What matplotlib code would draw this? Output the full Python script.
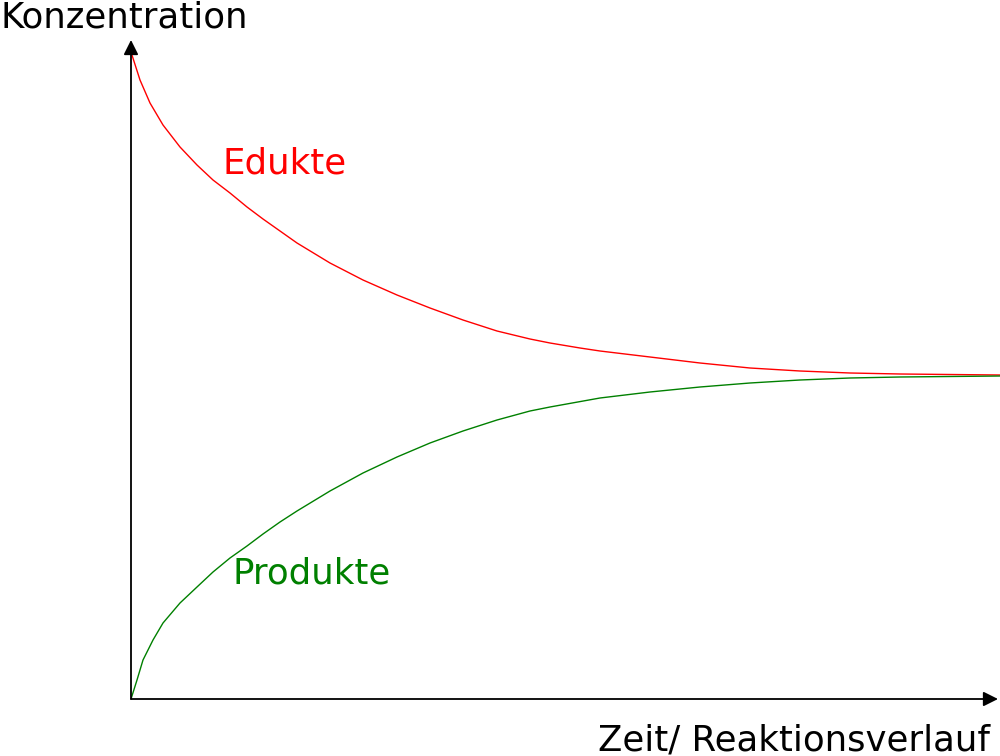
import matplotlib.pyplot as plt
import numpy as np

# values (time / concentration, arbitrary units)
zeit_edukte = [0, 9, 19, 32, 49, 66, 82, 99, 116, 132, 166, 199, 232, 266, 299, 332, 366,
               399, 419, 449, 469, 519, 569, 619, 669, 719, 769, 869]
konz_edukte = [647, 619, 596, 574, 552, 534, 519, 506, 492, 480, 456, 436, 419, 404, 391,
               379, 368, 360, 356, 351, 348, 342, 336, 331, 328, 326, 325, 324]

zeit_produkte = [0, 6, 12, 22, 32, 49, 66, 82, 99, 116, 132, 149, 166, 199, 232, 266, 299,
                 332, 366, 399, 419, 469, 519, 569, 619, 669, 719, 769, 869]
konz_produkte = [0, 19, 39, 59, 76, 96, 112, 127, 141, 153, 165, 177, 188, 208, 226, 242,
                 256, 268, 279, 288, 292, 301, 307, 312, 316, 319, 321, 322, 323]

x_label = 'Zeit/ Reaktionsverlauf'
y_label = 'Konzentration'

fig = plt.figure(figsize=(10, 7.56), dpi=100)
ax = fig.add_axes([0.131, 57 / 756, 0.869, 659 / 756])
ax.set_xlim(0, 869)
ax.set_ylim(0, 659)
ax.axis('off')

ax.plot(zeit_edukte, konz_edukte, color='#ff0000', lw=1.0, solid_joinstyle='round')
ax.plot(zeit_produkte, konz_produkte, color='#008000', lw=1.0, solid_joinstyle='round')

# axes with arrow heads
arrow = dict(arrowstyle='-|>', color='black', lw=1.3, mutation_scale=22, shrinkA=0, shrinkB=0)
ax.annotate('', xy=(0, 1), xytext=(0, 0), xycoords='axes fraction', arrowprops=arrow,
            annotation_clip=False)
ax.annotate('', xy=(0.9977, 0), xytext=(0, 0), xycoords='axes fraction', arrowprops=arrow,
            annotation_clip=False)

fs = 25.6
fig.text(0.0, 1 - 27 / 756, y_label, fontsize=fs, va='baseline', ha='left')
fig.text(0.990, 1 - 751 / 756, x_label, fontsize=fs, va='baseline', ha='right')
fig.text(0.222, 1 - 173 / 756, 'Edukte', fontsize=fs, color='#ff0000', va='baseline')
fig.text(0.232, 1 - 583 / 756, 'Produkte', fontsize=fs, color='#008000', va='baseline')

fig.savefig('out.png', dpi=100)
